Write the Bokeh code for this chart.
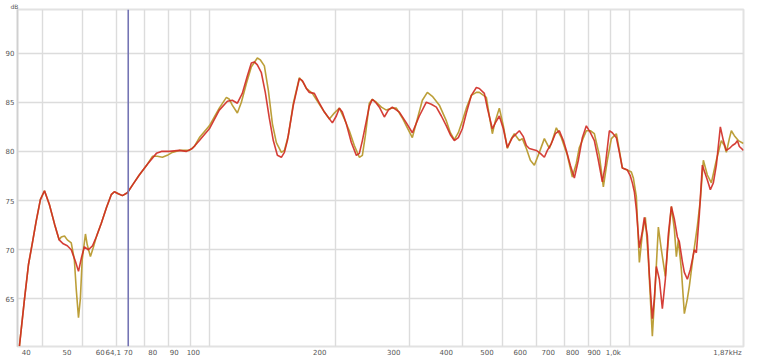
from bokeh.plotting import figure
from bokeh.models import FixedTicker, Label, Span, Range1d
from bokeh.embed import file_html
from bokeh.resources import INLINE

# ---- data (frequency in Hz, level in dB) ----
freq_red = [35.3, 36.3, 37.1, 37.9, 38.7, 39.6, 40.5, 41.6, 42.8, 43.9,
            44.9, 45.9, 46.9, 48.0, 48.8, 49.6, 50.4, 51.5, 52.7, 53.8,
            55.3, 56.9, 58.4, 59.4, 60.7, 62.1, 63.8, 65.9, 68.1, 71.2,
            74.8, 76.9, 80.3, 84.8, 88.2, 91.1, 94.7, 100.0, 105.6, 110.4,
            113.4, 116.6, 119.8, 123.2, 125.9, 128.0, 130.1, 133.0, 135.9, 138.9,
            142.0, 145.2, 148.4, 150.9, 153.4, 158.5, 163.8, 166.5, 170.2, 173.0,
            177.8, 182.8, 187.9, 196.3, 200.6, 204.0, 207.3, 211.9, 217.8, 223.9,
            227.6, 231.4, 236.5, 240.4, 244.4, 249.8, 254.0, 261.0, 266.8, 272.7,
            283.4, 294.5, 304.3, 316.2, 328.6, 337.7, 347.1, 356.8, 366.7, 374.8,
            383.1, 391.6, 400.3, 409.2, 420.6, 432.3, 439.4, 451.6, 459.1, 471.9,
            479.7, 490.3, 501.2, 512.3, 526.6, 547.2, 559.3, 568.6, 578.0, 600.6,
            613.9, 627.6, 638.0, 652.1, 666.6, 681.3, 696.5, 708.0, 723.7, 739.7,
            756.1, 772.9, 790.0, 807.6, 825.5, 843.8, 862.5, 876.8, 896.3, 911.1,
            931.3, 946.8, 962.5, 989.2, 1005.6, 1016.7, 1027.9, 1039.2, 1056.5, 1074.0,
            1085.8, 1103.9, 1116.0, 1134.5, 1147.0, 1159.7, 1178.9, 1198.5, 1218.4, 1238.6,
            1259.1, 1280.0, 1301.2, 1315.5, 1337.4, 1352.1, 1374.5, 1397.3, 1428.3, 1444.1,
            1468.0, 1492.4, 1533.8, 1559.3, 1585.1, 1611.4, 1647.1, 1674.5, 1702.2, 1730.5,
            1759.1, 1788.3, 1808.0, 1828.0, 1870.0]
db_red = [60.2, 65.0, 68.5, 70.7, 72.9, 75.1, 76.0, 74.6, 72.6, 71.0,
          70.6, 70.4, 70.0, 68.8, 67.8, 69.2, 70.3, 70.0, 70.4, 71.3,
          72.7, 74.3, 75.6, 75.9, 75.7, 75.5, 75.8, 76.7, 77.6, 78.7,
          79.8, 80.0, 80.0, 80.1, 80.0, 80.3, 81.1, 82.3, 84.2, 85.1,
          85.2, 84.9, 85.9, 87.7, 89.0, 89.1, 88.8, 88.0, 86.0, 83.4,
          81.1, 79.6, 79.4, 79.9, 81.1, 84.7, 87.4, 87.2, 86.4, 86.0,
          85.9, 84.9, 84.0, 82.9, 83.6, 84.4, 84.0, 82.8, 80.9, 79.6,
          79.8, 81.1, 83.1, 84.6, 85.3, 84.9, 84.5, 83.5, 84.2, 84.5,
          84.0, 82.9, 81.9, 83.6, 85.0, 84.8, 84.5, 83.6, 82.6, 81.7,
          81.1, 81.4, 82.3, 83.9, 85.7, 86.5, 86.4, 85.9, 84.4, 82.3,
          82.9, 83.6, 82.3, 80.4, 81.4, 82.1, 81.5, 80.6, 80.3, 80.1,
          79.8, 79.4, 80.1, 80.8, 81.8, 82.1, 81.1, 80.1, 78.6, 77.3,
          79.1, 81.4, 82.6, 81.9, 81.1, 79.1, 76.9, 78.6, 82.1, 81.9,
          81.4, 79.9, 78.3, 78.1, 77.5, 76.8, 75.9, 74.1, 70.2, 71.9,
          73.3, 71.4, 67.5, 63.0, 65.0, 68.3, 67.0, 64.0, 67.0, 71.6,
          74.4, 73.1, 71.3, 70.8, 68.8, 67.7, 67.0, 68.0, 70.0, 69.7,
          73.6, 78.6, 77.1, 76.1, 76.8, 78.6, 82.5, 81.1, 80.1, 80.3,
          80.6, 80.8, 81.1, 80.5, 80.1]

freq_gold = [35.3, 36.3, 37.1, 37.9, 38.7, 39.6, 40.5, 41.6, 42.8, 43.9,
             44.4, 45.2, 45.9, 46.9, 47.7, 48.2, 48.8, 49.3, 49.8, 50.7,
             51.2, 52.1, 52.9, 53.8, 55.3, 56.9, 58.4, 59.4, 60.7, 62.1,
             63.8, 65.9, 68.1, 71.2, 73.2, 75.2, 77.3, 79.4, 81.6, 84.8,
             89.6, 92.1, 94.7, 100.0, 105.6, 109.8, 111.6, 113.4, 116.6, 119.2,
             122.5, 125.9, 130.1, 132.3, 135.2, 138.2, 141.3, 144.4, 148.4, 150.9,
             154.2, 158.5, 163.8, 167.4, 170.2, 175.9, 182.8, 187.9, 193.1, 198.4,
             204.0, 209.6, 215.4, 221.4, 227.6, 231.4, 235.2, 240.4, 244.4, 249.8,
             256.8, 263.9, 271.2, 278.8, 288.1, 296.1, 304.3, 312.8, 321.5, 330.4,
             339.6, 352.9, 366.7, 374.8, 383.1, 391.6, 400.3, 409.2, 420.6, 432.3,
             439.4, 456.6, 464.2, 471.9, 479.7, 490.3, 501.2, 512.3, 523.7, 532.4,
             547.2, 556.2, 568.6, 581.2, 594.1, 610.6, 627.6, 645.0, 655.7, 670.2,
             688.9, 711.9, 731.7, 747.9, 760.3, 790.0, 807.6, 825.5, 848.4, 867.2,
             886.5, 906.1, 931.3, 946.8, 962.5, 989.2, 1011.1, 1022.3, 1039.2, 1056.5,
             1074.0, 1091.8, 1109.9, 1134.5, 1153.3, 1172.5, 1191.9, 1218.4, 1238.6, 1259.1,
             1280.0, 1294.1, 1308.4, 1330.0, 1352.1, 1374.5, 1389.7, 1420.5, 1452.0, 1476.1,
             1500.6, 1533.8, 1567.8, 1611.4, 1656.2, 1683.7, 1702.2, 1730.5, 1749.5, 1778.5,
             1818.0, 1870.0]
db_gold = [60.2, 65.0, 68.5, 70.7, 72.9, 75.1, 76.0, 74.6, 72.6, 71.0,
           71.3, 71.4, 71.0, 70.7, 69.0, 66.0, 63.1, 65.0, 69.0, 71.6,
           70.5, 69.3, 70.2, 71.3, 72.7, 74.3, 75.6, 75.9, 75.7, 75.5,
           75.8, 76.7, 77.6, 78.7, 79.5, 79.5, 79.4, 79.6, 79.9, 80.1,
           80.1, 80.5, 81.4, 82.6, 84.4, 85.5, 85.3, 84.7, 83.9, 85.0,
           86.9, 88.6, 89.5, 89.3, 88.7, 86.2, 82.8, 80.9, 79.9, 80.1,
           81.6, 84.9, 87.5, 87.0, 86.4, 85.9, 84.8, 84.0, 83.3, 83.9,
           84.4, 83.3, 82.1, 80.6, 79.4, 79.6, 81.6, 84.9, 85.3, 85.0,
           84.5, 84.2, 84.4, 84.4, 83.4, 82.4, 81.4, 83.3, 85.2, 86.0,
           85.6, 84.7, 83.1, 81.9, 81.2, 81.9, 83.1, 84.4, 85.7, 86.0,
           86.0, 85.5, 83.6, 81.8, 83.1, 84.4, 82.6, 80.3, 81.3, 81.8,
           81.1, 81.3, 80.3, 79.1, 78.6, 79.9, 81.3, 80.3, 81.1, 82.4,
           81.4, 79.6, 77.4, 78.8, 80.4, 82.1, 82.1, 81.8, 79.6, 76.4,
           79.1, 81.3, 81.8, 80.1, 78.3, 78.1, 77.9, 77.3, 75.4, 68.7,
           71.6, 73.3, 69.0, 61.2, 66.5, 72.3, 70.0, 67.3, 71.0, 74.4,
           72.1, 69.3, 71.0, 68.0, 63.5, 65.0, 66.3, 69.5, 72.4, 75.1,
           79.1, 77.6, 76.8, 79.1, 81.1, 80.6, 79.9, 81.3, 82.1, 81.6,
           81.1, 80.8]

x_grid_values = [40, 50, 60, 70, 80, 90, 100, 200, 300, 400, 500, 600, 700,
                 800, 900, 1000, 1870]
x_tick_labels = ["40", "50", "60", "70", "80", "90", "100", "200", "300", "400",
                 "500", "600", "700", "800", "900", "1,0k", "1,87kHz"]
y_tick_values = [65, 70, 75, 80, 85, 90]
cursor_freq = 64.1
cursor_label = "64,1"

# ---- figure ----
X_START, X_END = 34.93, 1870.0
Y_START, Y_END = 60.16, 94.43
PX_PER_DECADE = 420.0
LABEL_SHIFT = 10 ** (-16 / PX_PER_DECADE)   # tick labels sit ~16px left of their grid lines

p = figure(width=760, height=359, x_axis_type="log",
           x_range=Range1d(X_START, X_END), y_range=Range1d(Y_START, Y_END),
           output_backend="svg", toolbar_location=None,
           min_border_left=17, min_border_right=17, min_border_top=8,
           min_border_bottom=11, background_fill_color="white",
           border_fill_color="white")
p.outline_line_color = "#e2e2e2"
p.outline_line_width = 2

# unit label in the top-left corner
p.title.text = "dB"
p.title.align = "left"
p.title.offset = -7
p.title.standoff = 0
p.title.text_font = "DejaVu Sans"
p.title.text_font_size = "6px"
p.title.text_font_style = "normal"
p.title.text_color = "#555555"

# grid
p.xgrid.ticker = FixedTicker(ticks=x_grid_values)
p.ygrid.ticker = FixedTicker(ticks=y_tick_values)
p.xgrid.grid_line_color = "#dcdcdc"
p.ygrid.grid_line_color = "#dcdcdc"
p.xgrid.grid_line_width = 1.4
p.ygrid.grid_line_width = 1.4

# x axis with labels shifted left (cursor readout included as a label)
tick_freqs = x_grid_values + [cursor_freq * 10 ** (1 / PX_PER_DECADE)]
tick_texts = x_tick_labels + [cursor_label]
shifted = [round(v * LABEL_SHIFT, 4) for v in tick_freqs]
xa = p.xaxis[0]
xa.ticker = FixedTicker(ticks=shifted)
xa.major_label_overrides = {s: lab for s, lab in zip(shifted, tick_texts)}
xa.major_tick_line_color = None
xa.minor_tick_line_color = None
xa.major_tick_out = 0
xa.major_tick_in = 0
xa.minor_tick_out = 0
xa.minor_tick_in = 0
xa.axis_line_color = None
xa.major_label_standoff = 2
xa.major_label_text_font = "DejaVu Sans"
xa.major_label_text_font_size = "7px"
xa.major_label_text_color = "#555555"

ya = p.yaxis[0]
ya.ticker = FixedTicker(ticks=y_tick_values)
ya.major_tick_line_color = None
ya.minor_tick_line_color = None
ya.major_tick_out = 0
ya.major_tick_in = 0
ya.minor_tick_out = 0
ya.minor_tick_in = 0
ya.axis_line_color = "#d0d0d0"
ya.axis_line_width = 1.5
ya.major_label_standoff = 3
ya.major_label_text_font = "DejaVu Sans"
ya.major_label_text_font_size = "7px"
ya.major_label_text_color = "#555555"

# curves
p.line(freq_gold, db_gold, line_color="#b89a2e", line_width=1.6, line_alpha=0.95)
p.line(freq_red, db_red, line_color="#d02a22", line_width=1.6, line_alpha=0.9)

# cursor
p.add_layout(Span(location=cursor_freq, dimension="height",
                  line_color="#7474b4", line_width=1.6))

# first label at the left edge
p.add_layout(Label(x=1, y=354, x_units="canvas", y_units="canvas", text="35",
                   text_align="left", text_baseline="middle",
                   text_font="DejaVu Sans", text_font_size="7px",
                   text_color="#555555"))

open("out.html", "w").write(file_html(p, INLINE))
